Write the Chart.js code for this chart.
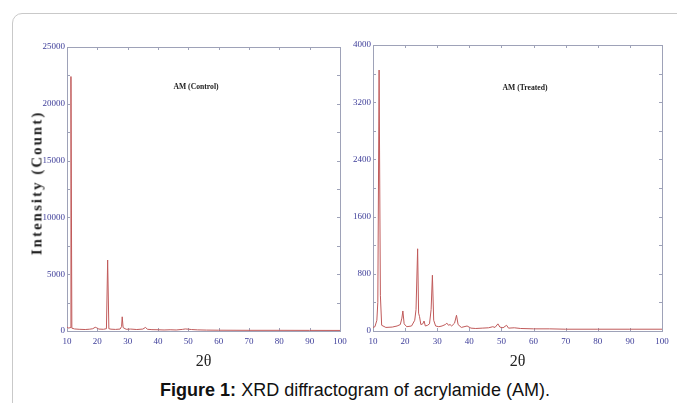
<!DOCTYPE html>
<html>
<head>
<meta charset="utf-8">
<script src="https://cdn.jsdelivr.net/npm/chart.js@4"></script>
<style>
  body { margin: 0; background: #fff; width: 677px; height: 403px; overflow: hidden; position: relative; font-family: "Liberation Sans", Arial, sans-serif; }
  #frame { position: absolute; left: 12px; top: 13px; width: 720px; height: 440px; border: 1px solid #c9c9c9; border-radius: 10px; }
  #leftChart { position: absolute; left: 0; top: 0; }
  #rightChart { position: absolute; left: 345px; top: 0; }
  .inner { position: absolute; font: bold 9px "Liberation Serif", serif; color: #222; white-space: nowrap; transform: translate(-50%, -50%) scaleX(0.85); }
  #ytitle { position: absolute; left: 37px; top: 183px; font: bold 15px "Liberation Serif", serif; letter-spacing: 2px; color: #222; white-space: nowrap; transform: translate(-50%, -50%) rotate(-90deg); }
  #caption { position: absolute; left: 0; width: 710px; top: 379px; text-align: center; font-size: 18px; line-height: 22px; color: #111; }
</style>
</head>
<body>
<div id="frame"></div>
<canvas id="leftChart" width="355" height="372"></canvas>
<canvas id="rightChart" width="332" height="372"></canvas>
<div class="inner" style="left:196px; top:86px;">AM (Control)</div>
<div class="inner" style="left:525px; top:87px;">AM (Treated)</div>
<div id="ytitle">Intensity (Count)</div>
<div id="caption"><b>Figure 1:</b> XRD diffractogram of acrylamide (AM).</div>

<script>
// AM (Control) - 2θ und Intensität
const controlAngle  = [10.0, 10.6, 11.0, 11.3, 11.6, 12.5, 14, 16, 17.5, 18.5, 19.3, 19.8, 20.5, 22, 23.0, 23.4, 23.8, 24.5, 26, 27.5, 28.0, 28.2, 28.5, 29.5, 31, 33, 35, 35.9, 36.5, 38, 40, 42, 44, 46, 48, 49, 50, 51, 53, 56, 60, 70, 80, 90, 100];
const controlCounts = [350, 250, 300, 22400, 250, 180, 150, 130, 160, 200, 330, 280, 170, 150, 200, 6250, 200, 160, 140, 170, 400, 1250, 300, 150, 170, 130, 170, 320, 150, 120, 110, 90, 110, 90, 140, 180, 160, 130, 100, 80, 70, 60, 60, 55, 50];

// AM (Treated)
const treatedAngle  = [10.0, 10.6, 11.2, 11.5, 11.9, 12.3, 12.7, 14, 16, 17.5, 18.5, 19.0, 19.3, 19.7, 20.5, 22, 23.0, 23.4, 23.9, 24.2, 24.5, 24.9, 25.5, 25.9, 26.3, 27.0, 27.6, 28.1, 28.5, 28.9, 29.5, 30.5, 31.5, 32.5, 33.0, 33.5, 34.0, 34.5, 35.4, 36.0, 36.5, 37.5, 39.3, 40.5, 42, 44, 46, 47.3, 48, 48.9, 49.5, 50.5, 51.6, 52.2, 54, 56, 60, 65, 70, 80, 90, 100];
const treatedCounts = [50, 60, 150, 400, 3650, 500, 80, 50, 55, 70, 90, 180, 280, 100, 60, 70, 150, 300, 1150, 250, 200, 90, 100, 140, 70, 80, 100, 300, 780, 150, 70, 60, 70, 90, 110, 80, 90, 70, 110, 220, 90, 50, 70, 40, 35, 40, 45, 60, 50, 100, 55, 45, 80, 40, 45, 35, 30, 30, 25, 25, 25, 25];

// Achsen
const xMin = 10, xMax = 100, xStep = 10;
const controlMax = 25000, controlStep = 5000;
const treatedMax = 4000, treatedStep = 800;

const lineColor = '#c05a5a';
const tickColor = '#3d3d99';
const frameColor = '#9ea2b8';

// Rahmen mit kleinen Ticks nach innen (wie im Original)
const framePlugin = {
  id: 'frame',
  beforeDatasetsDraw(chart) {
    const { ctx, chartArea: a, scales } = chart;
    const yStep = chart.options.scales.y.ticks.stepSize / 2;
    const yMax = chart.options.scales.y.max;
    ctx.save();
    ctx.strokeStyle = frameColor;
    ctx.lineWidth = 1;
    ctx.strokeRect(Math.round(a.left) + 0.5, Math.round(a.top) + 0.5, Math.round(a.right - a.left), Math.round(a.bottom - a.top));
    ctx.beginPath();
    scales.x.ticks.forEach(function (t) {
      var px = Math.round(scales.x.getPixelForValue(t.value)) + 0.5;
      ctx.moveTo(px, a.bottom); ctx.lineTo(px, a.bottom - 3);
      ctx.moveTo(px, a.top); ctx.lineTo(px, a.top + 3);
    });
    for (let v = 0; v <= yMax; v += yStep) {
      var py = Math.round(scales.y.getPixelForValue(v)) + 0.5;
      ctx.moveTo(a.left, py); ctx.lineTo(a.left + 3, py);
      ctx.moveTo(a.right, py); ctx.lineTo(a.right - 3, py);
    }
    ctx.stroke();
    ctx.restore();
  }
};

function makeChart(id, angles, counts, yMax, yStep, yWidth, padTop, padRight) {
  var points = angles.map(function (a, i) { return { x: a, y: counts[i] }; });
  return new Chart(document.getElementById(id).getContext('2d'), {
    type: 'line',
    data: {
      datasets: [{
        data: points,
        borderColor: lineColor,
        borderWidth: 1,
        pointRadius: 0,
        tension: 0,
        fill: false
      }]
    },
    options: {
      responsive: false,
      animation: false,
      devicePixelRatio: 1,
      layout: { padding: { left: 0, top: padTop, right: padRight, bottom: 0 } },
      plugins: { legend: { display: false }, tooltip: { enabled: false } },
      scales: {
        x: {
          type: 'linear',
          min: xMin,
          max: xMax,
          grid: { display: false, drawTicks: false },
          border: { display: false },
          ticks: { stepSize: xStep, padding: 5, color: tickColor, font: { family: 'Liberation Serif', size: 9 } },
          title: { display: true, text: '2θ', color: '#222', font: { family: 'Liberation Serif', size: 16 }, padding: { top: 0, bottom: 1 } },
          afterFit: function (s) { s.height = 41; }
        },
        y: {
          min: 0,
          max: yMax,
          grid: { display: false, drawTicks: false },
          border: { display: false },
          ticks: {
            stepSize: yStep, padding: 2, color: tickColor, font: { family: 'Liberation Serif', size: 9 },
            callback: function (value) { return String(value); }  // ohne Tausender-Komma
          },
          afterFit: function (s) { s.width = yWidth; }
        }
      }
    },
    plugins: [framePlugin]
  });
}

makeChart('leftChart', controlAngle, controlCounts, controlMax, controlStep, 67, 47, 15);
makeChart('rightChart', treatedAngle, treatedCounts, treatedMax, treatedStep, 28, 45, 15);
</script>
</body>
</html>
